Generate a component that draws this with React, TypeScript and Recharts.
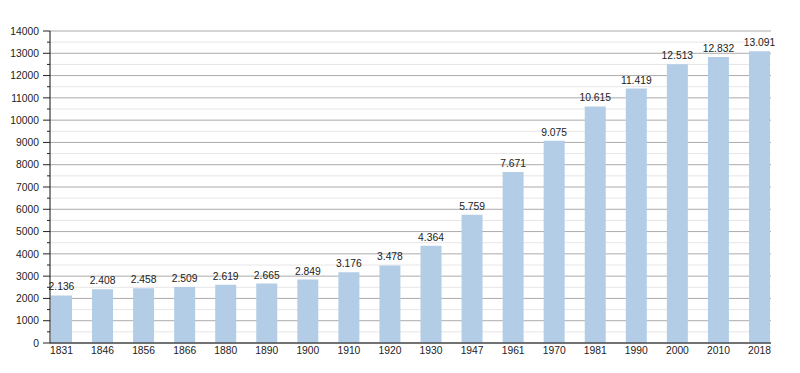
import React from "react";
import { BarChart, Bar, XAxis, YAxis, CartesianGrid, LabelList } from "recharts";

const years = ["1831","1846","1856","1866","1880","1890","1900","1910","1920","1930","1947","1961","1970","1981","1990","2000","2010","2018"];
const population = [2136,2408,2458,2509,2619,2665,2849,3176,3478,4364,5759,7671,9075,10615,11419,12513,12832,13091];
const yTicks = [0,500,1000,1500,2000,2500,3000,3500,4000,4500,5000,5500,6000,6500,7000,7500,8000,8500,9000,9500,10000,10500,11000,11500,12000,12500,13000,13500,14000];
const xIndex = years.map((_, i) => i);

const data = years.map((y, i) => ({ i, year: y, pop: population[i] }));

const FONT = "'Liberation Sans', Arial, sans-serif";
const TEXT = "#222";
const FS = 10.3;

const fmt = (v: number) => {
  const s = String(v);
  if (s.length <= 3) return s;
  return s.slice(0, s.length - 3) + "." + s.slice(s.length - 3);
};

const YTick = (props: any) => {
  const { x, y, payload } = props;
  const major = payload.value % 1000 === 0;
  const axisX = x + 2;
  return (
    <g>
      <line x1={axisX - (major ? 7 : 3)} x2={axisX} y1={y} y2={y} stroke="#222" strokeWidth={1} />
      {major && (
        <text x={axisX - 11} y={y} dy="0.355em" textAnchor="end" fontSize={FS} fontFamily={FONT} fill={TEXT}>
          {payload.value}
        </text>
      )}
    </g>
  );
};

const GridLine = (p: any) => {
  const major = p.index % 2 === 0;
  return (
    <line
      key={p.key}
      x1={p.x1}
      x2={p.x2}
      y1={p.y1}
      y2={p.y2}
      stroke={major ? "#ababab" : "#e6e6e6"}
      strokeWidth={1}
    />
  );
};

export default function App() {
  return (
    <div style={{ position: "absolute", left: 0, top: 0, background: "#fff" }}>
      <BarChart width={800} height={373} data={data} margin={{ top: 31, right: 29, left: 0, bottom: 0 }}>
        <CartesianGrid vertical={false} horizontal={GridLine as any} />
        <XAxis
          type="number"
          dataKey="i"
          domain={[-0.28, 17.28]}
          allowDataOverflow
          ticks={xIndex}
          interval={0}
          tickFormatter={(v: number) => years[v]}
          height={30}
          tickLine={false}
          tickSize={0}
          tickMargin={4}
          axisLine={{ stroke: "#111" }}
          tick={{ fontSize: FS, fontFamily: FONT, fill: TEXT }}
        />
        <YAxis
          type="number"
          domain={[0, 14000]}
          ticks={yTicks}
          interval={0}
          width={50}
          tickLine={false}
          tickSize={0}
          axisLine={{ stroke: "#111" }}
          tick={<YTick />}
        />
        <Bar dataKey="pop" fill="#b3cde6" barSize={21} isAnimationActive={false}>
          <LabelList
            dataKey="pop"
            position="top"
            offset={5}
            formatter={(v: any) => fmt(Number(v))}
            style={{ fontSize: FS, fontFamily: FONT, fill: TEXT }}
          />
        </Bar>
      </BarChart>
    </div>
  );
}
